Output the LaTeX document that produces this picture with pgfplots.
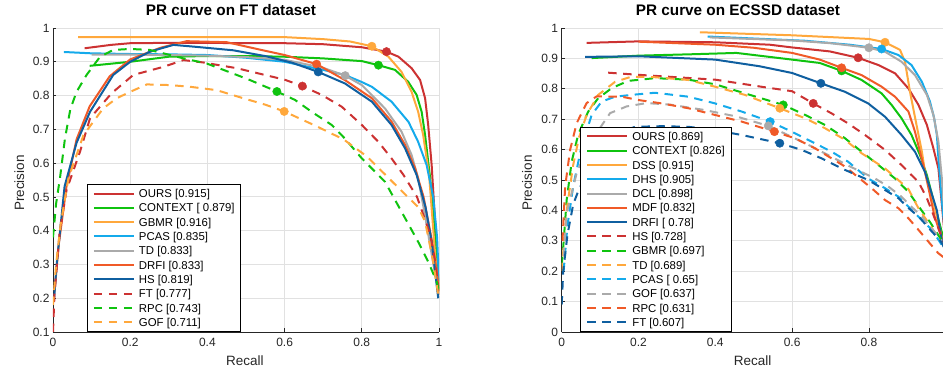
\documentclass[border=0pt]{standalone}
\usepackage{fontspec}
\setmainfont{Liberation Sans}
\usepackage{pgfplots}
\pgfplotsset{compat=1.18}
\definecolor{cRed}{RGB}{204,50,50}
\definecolor{cGrn}{RGB}{15,195,15}
\definecolor{cOrg}{RGB}{255,168,60}
\definecolor{cLbl}{RGB}{20,170,235}
\definecolor{cGry}{RGB}{170,170,170}
\definecolor{cOrd}{RGB}{240,90,40}
\definecolor{cDbl}{RGB}{15,95,160}
\definecolor{axc}{RGB}{38,38,38}
\definecolor{gridc}{RGB}{225,225,225}
\tikzset{
  sR/.style={draw=cRed,line width=2pt,line join=round},
  sG/.style={draw=cGrn,line width=2pt,line join=round},
  sO/.style={draw=cOrg,line width=2pt,line join=round},
  sL/.style={draw=cLbl,line width=2pt,line join=round},
  sY/.style={draw=cGry,line width=2pt,line join=round},
  sD/.style={draw=cOrd,line width=2pt,line join=round},
  sB/.style={draw=cDbl,line width=2pt,line join=round},
  dsh/.style={dash pattern=on 8.5pt off 6.5pt},
}
\pgfplotsset{
  prax/.style={
    scale only axis, height=304pt,
    axis x line*=bottom, axis y line*=left,
    axis line style={-, draw=axc, line width=0.7pt},
    tick align=inside, major tick length=3.5pt,
    tick style={draw=axc, line width=0.7pt},
    grid=major, major grid style={draw=gridc, line width=0.8pt},
    xmin=0, xmax=1,
    /pgf/number format/assume math mode=true,
    /pgf/number format/fixed, /pgf/number format/precision=1,
    ticklabel style={font=\fontsize{12}{14}\selectfont, text=axc},
    xticklabel style={yshift=-3pt},
    label style={font=\fontsize{13.5}{16}\selectfont, text=axc},
    title style={anchor=base, yshift=6.5pt, font=\bfseries\fontsize{15.3}{18}\selectfont, text=black},
    xlabel style={at={(axis description cs:0.497,0)}, anchor=base, yshift=-34pt},
    legend image code/.code={\draw[##1] (0pt,0pt) -- (40pt,0pt);},
    legend cell align=left,
    legend style={anchor=south west, draw=black, line width=0.6pt, fill=white,
      font=\fontsize{11.4}{13}\selectfont, inner xsep=6pt, inner ysep=2.3pt,
      row sep=0pt, column sep=4pt,
      nodes={inner sep=0pt, text height=11.25pt, text depth=3.05pt}},
    mk/.style={only marks, mark=*, mark size=4.2pt, forget plot},
  }
}
\begin{document}
\begin{tikzpicture}
% ---------------- LEFT -----------------
\begin{axis}[prax, at={(53pt,42pt)}, anchor=south west, width=386pt,
  ymin=0.1, ymax=1,
  xtick={0,0.2,0.4,0.6,0.8,1}, ytick={0.1,0.2,0.3,0.4,0.5,0.6,0.7,0.8,0.9,1},
  title={PR curve on FT dataset}, title style={at={(axis description cs:0.461,1)}},
  xlabel={Recall}, ylabel={Precision},
  ylabel style={at={(axis description cs:-0.0751,0.49)}, anchor=base},
  legend style={at={(axis description cs:0.0873,0)}}]
\addplot[sR] coordinates {(0.082,0.94)(0.15,0.95)(0.2,0.955)(0.3,0.956)(0.4,0.956)(0.5,0.955)(0.6,0.955)(0.7,0.952)(0.8,0.943)(0.864,0.93)(0.895,0.915)(0.929,0.881)(0.951,0.846)(0.964,0.792)(0.972,0.713)(0.981,0.594)(0.987,0.48)(0.994,0.35)(1,0.21)};
\addlegendentry{OURS [0.915]}
\addplot[sG] coordinates {(0.095,0.888)(0.2,0.9)(0.3,0.915)(0.4,0.917)(0.5,0.917)(0.6,0.915)(0.7,0.91)(0.8,0.902)(0.843,0.89)(0.886,0.876)(0.92,0.841)(0.942,0.802)(0.955,0.752)(0.964,0.683)(0.971,0.614)(0.977,0.556)(0.985,0.45)(0.993,0.33)(1,0.22)};
\addlegendentry{CONTEXT [ 0.879]}
\addplot[sO] coordinates {(0.065,0.973)(0.2,0.973)(0.4,0.973)(0.6,0.973)(0.7,0.967)(0.77,0.96)(0.826,0.946)(0.869,0.915)(0.903,0.87)(0.929,0.811)(0.946,0.752)(0.959,0.683)(0.968,0.614)(0.975,0.555)(0.982,0.45)(0.99,0.33)(1,0.21)};
\addlegendentry{GBMR [0.916]}
\addplot[sL] coordinates {(0.028,0.929)(0.1,0.925)(0.2,0.923)(0.3,0.922)(0.4,0.92)(0.5,0.912)(0.6,0.9)(0.7,0.876)(0.756,0.861)(0.8,0.84)(0.826,0.826)(0.877,0.782)(0.921,0.722)(0.946,0.663)(0.968,0.594)(0.985,0.5)(0.995,0.38)(1,0.25)};
\addlegendentry{PCAS [0.835]}
\addplot[sY] coordinates {(0.1,0.921)(0.2,0.921)(0.3,0.92)(0.4,0.918)(0.5,0.914)(0.6,0.906)(0.7,0.882)(0.757,0.859)(0.8,0.831)(0.86,0.762)(0.903,0.693)(0.929,0.624)(0.946,0.555)(0.963,0.45)(0.978,0.35)(0.99,0.27)(1,0.21)};
\addlegendentry{TD [0.833]}
\addplot[sD] coordinates {(0.004,0.22)(0.015,0.36)(0.035,0.531)(0.061,0.67)(0.095,0.768)(0.147,0.857)(0.2,0.907)(0.277,0.941)(0.346,0.961)(0.45,0.958)(0.536,0.936)(0.6,0.92)(0.683,0.893)(0.756,0.846)(0.826,0.792)(0.877,0.723)(0.912,0.654)(0.938,0.585)(0.96,0.5)(0.98,0.38)(0.993,0.29)(1,0.22)};
\addlegendentry{DRFI [0.833]}
\addplot[sB] coordinates {(0.003,0.2)(0.009,0.294)(0.03,0.531)(0.061,0.66)(0.096,0.752)(0.156,0.861)(0.2,0.9)(0.251,0.93)(0.312,0.95)(0.363,0.945)(0.467,0.934)(0.554,0.916)(0.62,0.897)(0.687,0.87)(0.756,0.836)(0.826,0.782)(0.877,0.713)(0.912,0.644)(0.942,0.565)(0.965,0.47)(0.981,0.367)(0.998,0.2)};
\addlegendentry{HS [0.819]}
\addplot[sR,dsh] coordinates {(0,0.1)(0.004,0.215)(0.017,0.393)(0.035,0.52)(0.07,0.634)(0.096,0.733)(0.152,0.807)(0.208,0.861)(0.286,0.885)(0.338,0.905)(0.389,0.898)(0.476,0.881)(0.6,0.847)(0.646,0.828)(0.696,0.802)(0.748,0.767)(0.8,0.713)(0.843,0.663)(0.877,0.614)(0.908,0.565)(0.943,0.5)(0.977,0.39)(0.99,0.308)(1,0.215)};
\addlegendentry{FT [0.777]}
\addplot[sG,dsh] coordinates {(0,0.38)(0.008,0.48)(0.018,0.555)(0.031,0.673)(0.045,0.76)(0.061,0.811)(0.087,0.861)(0.122,0.915)(0.156,0.935)(0.2,0.938)(0.251,0.935)(0.338,0.91)(0.398,0.895)(0.476,0.861)(0.51,0.846)(0.58,0.812)(0.627,0.787)(0.67,0.752)(0.722,0.713)(0.756,0.673)(0.8,0.614)(0.834,0.575)(0.86,0.545)(0.903,0.456)(0.946,0.367)(0.972,0.308)(0.994,0.249)(1,0.22)};
\addlegendentry{RPC [0.743]}
\addplot[sO,dsh] coordinates {(0,0.18)(0.008,0.3)(0.02,0.42)(0.04,0.555)(0.079,0.683)(0.13,0.762)(0.165,0.792)(0.2,0.811)(0.243,0.833)(0.303,0.831)(0.355,0.826)(0.424,0.816)(0.493,0.792)(0.55,0.773)(0.599,0.753)(0.683,0.709)(0.753,0.67)(0.813,0.62)(0.865,0.561)(0.917,0.502)(0.946,0.47)(0.964,0.427)(0.985,0.308)(0.998,0.21)};
\addlegendentry{GOF [0.711]}
\addplot[mk, color=cRed] coordinates {(0.864,0.93)};
\addplot[mk, color=cGrn] coordinates {(0.843,0.89)};
\addplot[mk, color=cOrg] coordinates {(0.826,0.946)};
\addplot[mk, color=cGry] coordinates {(0.757,0.859)};
\addplot[mk, color=cOrd] coordinates {(0.683,0.893)};
\addplot[mk, color=cDbl] coordinates {(0.687,0.87)};
\addplot[mk, color=cRed] coordinates {(0.646,0.828)};
\addplot[mk, color=cGrn] coordinates {(0.58,0.812)};
\addplot[mk, color=cOrg] coordinates {(0.599,0.753)};
\end{axis}
% ---------------- RIGHT -----------------
\begin{axis}[prax, at={(561.7pt,42pt)}, anchor=south west, width=384pt,
  ymin=0, ymax=1,
  xtick={0,0.2,0.4,0.6,0.8}, ytick={0,0.1,0.2,0.3,0.4,0.5,0.6,0.7,0.8,0.9,1},
  title={PR curve on ECSSD dataset}, title style={at={(axis description cs:0.459,1)}},
  xlabel={Recall}, ylabel={Precision},
  ylabel style={at={(axis description cs:-0.078,0.49)}, anchor=base},
  legend style={at={(axis description cs:0.0477,0)}}]
\addplot[sR] coordinates {(0.065,0.951)(0.2,0.956)(0.4,0.953)(0.542,0.945)(0.6,0.936)(0.698,0.923)(0.772,0.902)(0.825,0.878)(0.868,0.851)(0.903,0.801)(0.929,0.747)(0.951,0.681)(0.968,0.604)(0.981,0.538)(0.99,0.42)(1,0.28)};
\addlegendentry{OURS [0.869]}
\addplot[sG] coordinates {(0.078,0.901)(0.2,0.909)(0.35,0.914)(0.455,0.918)(0.6,0.896)(0.672,0.885)(0.729,0.859)(0.781,0.829)(0.833,0.785)(0.859,0.747)(0.885,0.703)(0.911,0.648)(0.933,0.582)(0.951,0.516)(0.975,0.4)(1,0.28)};
\addlegendentry{CONTEXT [0.826]}
\addplot[sO] coordinates {(0.36,0.986)(0.6,0.976)(0.8,0.964)(0.842,0.953)(0.881,0.928)(0.894,0.889)(0.907,0.79)(0.924,0.681)(0.938,0.593)(0.946,0.527)(0.971,0.413)(0.992,0.30)(1,0.27)};
\addlegendentry{DSS [0.915]}
\addplot[sL] coordinates {(0.38,0.972)(0.634,0.958)(0.75,0.945)(0.833,0.931)(0.877,0.911)(0.911,0.878)(0.938,0.823)(0.959,0.758)(0.97,0.703)(0.977,0.648)(0.981,0.571)(0.99,0.43)(1,0.3)};
\addlegendentry{DHS [0.905]}
\addplot[sY] coordinates {(0.386,0.969)(0.6,0.959)(0.7,0.95)(0.8,0.935)(0.842,0.922)(0.885,0.889)(0.92,0.845)(0.951,0.78)(0.968,0.714)(0.981,0.626)(0.99,0.505)(1,0.33)};
\addlegendentry{DCL [0.898]}
\addplot[sD] coordinates {(0.2,0.955)(0.4,0.945)(0.5,0.935)(0.6,0.918)(0.672,0.896)(0.729,0.869)(0.781,0.845)(0.833,0.807)(0.868,0.774)(0.903,0.725)(0.92,0.659)(0.933,0.593)(0.946,0.527)(0.971,0.38)(1,0.27)};
\addlegendentry{MDF [0.832]}
\addplot[sB] coordinates {(0.061,0.905)(0.2,0.907)(0.4,0.896)(0.516,0.874)(0.6,0.852)(0.675,0.818)(0.738,0.79)(0.798,0.752)(0.842,0.708)(0.885,0.648)(0.92,0.593)(0.946,0.527)(0.977,0.4)(0.99,0.3)(1,0.26)};
\addlegendentry{DRFI [ 0.78]}
\addplot[sR,dsh] coordinates {(0.121,0.853)(0.2,0.846)(0.4,0.83)(0.524,0.806)(0.6,0.792)(0.655,0.752)(0.703,0.719)(0.746,0.686)(0.79,0.648)(0.842,0.599)(0.885,0.549)(0.911,0.516)(0.929,0.494)(0.951,0.44)(0.968,0.385)(0.981,0.341)(1,0.28)};
\addlegendentry{HS [0.728]}
\addplot[sG,dsh] coordinates {(0,0.22)(0.004,0.28)(0.013,0.435)(0.026,0.56)(0.043,0.65)(0.069,0.725)(0.095,0.769)(0.13,0.802)(0.173,0.826)(0.243,0.835)(0.33,0.83)(0.399,0.815)(0.477,0.785)(0.577,0.747)(0.634,0.714)(0.686,0.681)(0.738,0.637)(0.781,0.593)(0.825,0.549)(0.868,0.505)(0.903,0.461)(0.924,0.423)(0.96,0.36)(0.99,0.3)};
\addlegendentry{GBMR [0.697]}
\addplot[sO,dsh] coordinates {(0,0.2)(0.005,0.28)(0.015,0.42)(0.03,0.55)(0.045,0.64)(0.065,0.714)(0.095,0.78)(0.139,0.823)(0.182,0.84)(0.243,0.838)(0.33,0.829)(0.399,0.807)(0.477,0.78)(0.568,0.736)(0.634,0.703)(0.686,0.67)(0.738,0.632)(0.781,0.588)(0.842,0.538)(0.872,0.505)(0.903,0.47)(0.929,0.407)(0.96,0.35)(0.99,0.29)};
\addlegendentry{TD [0.689]}
\addplot[sL,dsh] coordinates {(0.005,0.2)(0.015,0.35)(0.03,0.48)(0.05,0.6)(0.078,0.714)(0.104,0.758)(0.139,0.774)(0.182,0.78)(0.243,0.787)(0.33,0.774)(0.399,0.752)(0.469,0.725)(0.543,0.692)(0.599,0.659)(0.651,0.626)(0.703,0.593)(0.746,0.56)(0.798,0.505)(0.842,0.473)(0.877,0.445)(0.903,0.412)(0.933,0.374)(0.964,0.336)(0.99,0.286)};
\addlegendentry{PCAS [ 0.65]}
\addplot[sY,dsh] coordinates {(0.005,0.25)(0.013,0.391)(0.039,0.523)(0.065,0.6)(0.091,0.655)(0.126,0.72)(0.169,0.742)(0.221,0.753)(0.282,0.748)(0.368,0.731)(0.455,0.709)(0.538,0.678)(0.599,0.642)(0.651,0.61)(0.7,0.578)(0.75,0.545)(0.816,0.505)(0.851,0.478)(0.885,0.445)(0.911,0.412)(0.938,0.379)(0.964,0.34)(0.99,0.3)};
\addlegendentry{GOF [0.637]}
\addplot[sD,dsh] coordinates {(0.002,0.3)(0.009,0.479)(0.022,0.6)(0.039,0.687)(0.065,0.753)(0.091,0.775)(0.156,0.774)(0.2,0.763)(0.26,0.752)(0.33,0.736)(0.399,0.714)(0.469,0.692)(0.554,0.659)(0.608,0.637)(0.66,0.604)(0.703,0.571)(0.738,0.544)(0.807,0.473)(0.842,0.434)(0.877,0.407)(0.903,0.374)(0.929,0.336)(0.955,0.297)(0.98,0.26)(1,0.24)};
\addlegendentry{RPC [0.631]}
\addplot[sB,dsh] coordinates {(0,0.09)(0.004,0.2)(0.015,0.32)(0.03,0.42)(0.045,0.47)(0.08,0.55)(0.12,0.62)(0.16,0.66)(0.191,0.675)(0.26,0.677)(0.33,0.675)(0.399,0.664)(0.469,0.648)(0.568,0.621)(0.625,0.599)(0.677,0.571)(0.729,0.538)(0.798,0.5)(0.842,0.467)(0.877,0.44)(0.903,0.408)(0.933,0.375)(0.96,0.336)(0.986,0.3)(1,0.27)};
\addlegendentry{FT [0.607]}
\addplot[mk, color=cRed] coordinates {(0.772,0.902)};
\addplot[mk, color=cGrn] coordinates {(0.729,0.859)};
\addplot[mk, color=cOrg] coordinates {(0.842,0.953)};
\addplot[mk, color=cLbl] coordinates {(0.833,0.931)};
\addplot[mk, color=cGry] coordinates {(0.8,0.935)};
\addplot[mk, color=cOrd] coordinates {(0.729,0.869)};
\addplot[mk, color=cDbl] coordinates {(0.675,0.818)};
\addplot[mk, color=cRed] coordinates {(0.655,0.752)};
\addplot[mk, color=cGrn] coordinates {(0.577,0.747)};
\addplot[mk, color=cOrg] coordinates {(0.568,0.736)};
\addplot[mk, color=cLbl] coordinates {(0.543,0.692)};
\addplot[mk, color=cGry] coordinates {(0.538,0.678)};
\addplot[mk, color=cOrd] coordinates {(0.554,0.659)};
\addplot[mk, color=cDbl] coordinates {(0.568,0.621)};
\end{axis}
\pgfresetboundingbox
\useasboundingbox (0,0) rectangle (943pt,374pt);
\end{tikzpicture}
\end{document}
